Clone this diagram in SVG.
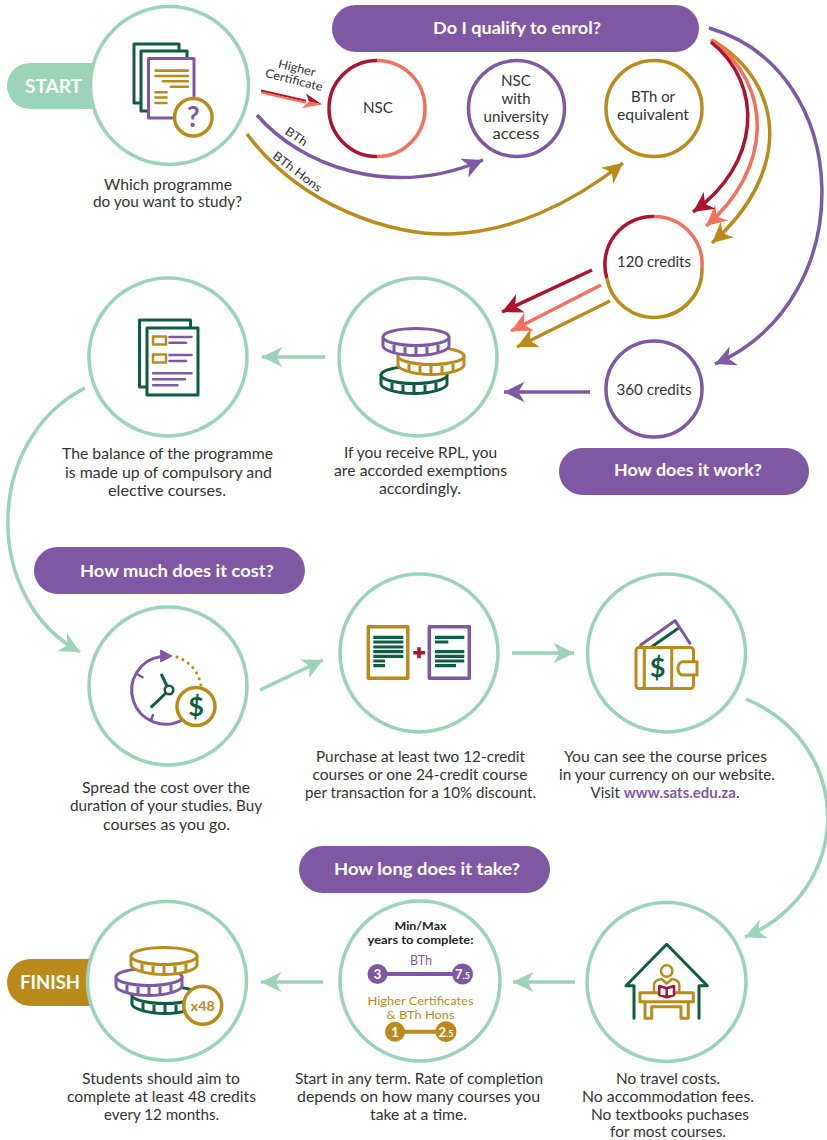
<svg xmlns="http://www.w3.org/2000/svg" width="827" height="1140" viewBox="0 0 827 1140">
<style>
text{font-family:"Lato","Noto Sans","Liberation Sans",sans-serif;fill:#333;text-anchor:middle}
.t{font-size:15px}
.c{font-size:14.5px}
.s{font-size:12px}
.h{font-size:17px;font-weight:700;fill:#fff}
.big{font-size:19px;font-weight:700;fill:#fff}
.ring{fill:#fff;stroke:#9BD3B8;stroke-width:3.5}
.g{fill:none;stroke:#9BD3B8;stroke-width:3.5;marker-end:url(#mG)}
.ln{fill:none;stroke-width:3.5}
.dg{stroke:#0F5C45}.pu{stroke:#7F58A4}.go{stroke:#BA8B1A}.re{stroke:#AE1231}.co{stroke:#F4705A}
.i{fill:none;stroke-width:3;stroke-linecap:round;stroke-linejoin:round}
.w{fill:#fff;stroke-width:3;stroke-linejoin:round}
.l2{fill:none;stroke-width:2.6;stroke-linecap:round}
.l3{fill:none;stroke-width:3.2}
.tw{stroke-width:2.5}
.tb{stroke-width:3.5}
.yr{font-size:11.5px;font-weight:700;fill:#222}
.gd{font-size:11.5px;fill:#BA8B1A}
.n{font-size:13px;font-weight:700;fill:#fff}
.d{font-size:27px;font-weight:700;fill:#0F5C45}
</style>
<defs>
<marker id="mG" markerUnits="userSpaceOnUse" markerWidth="24" markerHeight="24" refX="17" refY="10" orient="auto" viewBox="0 0 20 20"><path d="M0,1.5 L17,10 L0,18.5 L5,10Z" fill="#9BD3B8"/></marker>
<marker id="mP" markerUnits="userSpaceOnUse" markerWidth="24" markerHeight="24" refX="17" refY="10" orient="auto" viewBox="0 0 20 20"><path d="M0,1.5 L17,10 L0,18.5 L5,10Z" fill="#7F58A4"/></marker>
<marker id="mO" markerUnits="userSpaceOnUse" markerWidth="24" markerHeight="24" refX="17" refY="10" orient="auto" viewBox="0 0 20 20"><path d="M0,1.5 L17,10 L0,18.5 L5,10Z" fill="#BA8B1A"/></marker>
<marker id="mR" markerUnits="userSpaceOnUse" markerWidth="24" markerHeight="24" refX="17" refY="10" orient="auto" viewBox="0 0 20 20"><path d="M0,1.5 L17,10 L0,18.5 L5,10Z" fill="#AE1231"/></marker>
<marker id="mC" markerUnits="userSpaceOnUse" markerWidth="24" markerHeight="24" refX="17" refY="10" orient="auto" viewBox="0 0 20 20"><path d="M0,1.5 L17,10 L0,18.5 L5,10Z" fill="#F4705A"/></marker>
<g id="coin">
<path d="M-33,0 V9 C-33,14 -16,18.5 0,18.5 C16,18.5 33,14 33,9 V0Z" fill="#fff" stroke="currentColor" stroke-width="3" stroke-linejoin="round"/>
<path d="M-22,8 V15 M-11,10 V18 M0,10 V18 M11,10 V18 M22,8 V15" fill="none" stroke="currentColor" stroke-width="3"/>
<ellipse rx="33" ry="8.5" fill="#fff" stroke="currentColor" stroke-width="3"/>
</g>
</defs>

<g id="connectors">
<path fill="none" stroke="#AE1231" stroke-width="2" d="M261,90.5 L306,100.8"/>
<path fill="none" stroke="#F4705A" stroke-width="2" d="M261,92.5 L306,102.8"/>
<path d="M322,104.5 L306,93.5 L309,101.5Z" fill="#AE1231"/>
<path d="M322,104.5 L302,108 L309,101.5Z" fill="#F4705A"/>
<path class="ln pu" d="M257,115 C300,165 390,200 483,160" marker-end="url(#mP)"/>
<path class="ln go" d="M247,134 C300,205 390,236 450,234 C510,232 570,205 623,163" marker-end="url(#mO)"/>
<path class="ln go" d="M712,40 C788,85 790,175 712,243" marker-end="url(#mO)"/>
<path class="ln co" d="M711,40 C775,85 772,170 706,226" marker-end="url(#mC)"/>
<path class="ln re" d="M711,42 C765,85 760,165 693,212" marker-end="url(#mR)"/>
<path class="ln pu" d="M709,28 C855,70 862,300 715,364" marker-end="url(#mP)"/>
<path class="ln re" d="M592,270 L502,312" marker-end="url(#mR)"/>
<path class="ln co" d="M601,285 L511,331" marker-end="url(#mC)"/>
<path class="ln go" d="M610,301 L517,347" marker-end="url(#mO)"/>
<path class="ln pu" d="M590,392 L504,392" marker-end="url(#mP)"/>
<path class="g" d="M325,357 L262,357"/>
<path class="g" d="M85,388 C-17,440 -17,600 80,652"/>
<path class="g" d="M260,690 L323,660"/>
<path class="g" d="M512,653 L574,653"/>
<path class="g" d="M746,699 C855,745 855,890 745,937"/>
<path class="g" d="M575,982 L513,982"/>
<path class="g" d="M323,982 L261,982"/>
<text class="s" transform="translate(296,72) rotate(14)" textLength="38" lengthAdjust="spacingAndGlyphs">Higher</text>
<text class="s" transform="translate(293,84) rotate(14)" textLength="59" lengthAdjust="spacingAndGlyphs">Certificate</text>
<text class="s" transform="translate(294,140) rotate(34)" textLength="24" lengthAdjust="spacingAndGlyphs">BTh</text>
<text class="s" transform="translate(295,175) rotate(37)" textLength="58" lengthAdjust="spacingAndGlyphs">BTh Hons</text>
</g>

<g id="pill-start"><rect x="7" y="63" width="120" height="46" rx="23" fill="#9BD3B8"/><text class="big" x="53.5" y="93" textLength="57" lengthAdjust="spacingAndGlyphs">START</text></g>
<g id="node-programme">
<circle class="ring" cx="169.5" cy="85.5" r="79"/>
<rect class="w dg" x="134" y="44" width="45" height="59"/>
<rect class="w dg" x="141" y="51" width="46" height="60"/>
<rect class="w pu" x="148.5" y="58.5" width="45.5" height="59.5"/>
<path class="l2 go" d="M155.500,70.600H188M155.500,76H188M163,81.300H188M171,86.700H188M155.500,92.300H166.500M155.500,97.500H166.500M155.500,103H166.500"/>
<circle class="w go tb" cx="193.300" cy="117.300" r="18.800"/>
<text x="193.300" y="127" style="font-size:28px;font-weight:700;fill:#7F58A4">?</text>
<text class="t" x="168" y="190" textLength="128" lengthAdjust="spacingAndGlyphs">Which programme</text>
<text class="t" x="167.500" y="207" textLength="149" lengthAdjust="spacingAndGlyphs">do you want to study?</text>
</g>

<g id="pill-qualify"><rect x="332" y="5" width="367" height="47" rx="23.500" fill="#7F58A4"/><text class="h" x="517" y="34" textLength="168" lengthAdjust="spacingAndGlyphs">Do I qualify to enrol?</text></g>

<g id="node-nsc">
<path class="ln re" d="M377,60.500 A48,48 0 0 0 377,156.500"/>
<path class="ln co" d="M377,60.500 A48,48 0 0 1 377,156.500"/>
<text class="c" x="378" y="113" textLength="30" lengthAdjust="spacingAndGlyphs">NSC</text>
</g>
<g id="node-nsc-univ">
<circle class="ln pu" cx="516.500" cy="108.500" r="48"/>
<text class="c" x="516" y="86" textLength="30" lengthAdjust="spacingAndGlyphs">NSC</text>
<text class="c" x="516" y="104" textLength="29" lengthAdjust="spacingAndGlyphs">with</text>
<text class="c" x="516" y="122" textLength="65" lengthAdjust="spacingAndGlyphs">university</text>
<text class="c" x="516" y="139" textLength="47" lengthAdjust="spacingAndGlyphs">access</text>
</g>
<g id="node-bth">
<circle class="ln go" cx="654" cy="108.500" r="48"/>
<text class="c" x="653" y="102" textLength="44" lengthAdjust="spacingAndGlyphs">BTh or</text>
<text class="c" x="653" y="120" textLength="72" lengthAdjust="spacingAndGlyphs">equivalent</text>
</g>
<g id="node-120">
<path class="ln go" d="M606.800,278 A48,48 0 0 0 702,268"/>
<path class="ln re" d="M654,216.500 A48,48 0 0 0 606.800,278"/>
<path class="ln co" d="M654,216.500 A48,48 0 0 1 702,268"/>
<text class="c" x="654" y="267" textLength="74" lengthAdjust="spacingAndGlyphs">120 credits</text>
</g>
<g id="node-360">
<circle class="ln pu" cx="654" cy="389" r="48"/>
<text class="c" x="654" y="395" textLength="75" lengthAdjust="spacingAndGlyphs">360 credits</text>
</g>

<g id="node-balance">
<circle class="ring" cx="168" cy="357" r="79"/>
<rect class="w dg" x="139.500" y="320" width="51" height="67"/>
<rect class="w dg" x="147" y="328" width="51" height="67"/>
<path class="i go tw" d="M153,336.500H166V344.500H153ZM153,354.500H166V362.500H153Z"/>
<path class="l2 pu" d="M169.500,337H191.500M169.500,342.800H186M169.500,355H191.500M169.500,361H186M153,373.300H191.500M153,379.300H185M153,385.300H177.500"/>
<text class="t" x="167.500" y="459" textLength="211" lengthAdjust="spacingAndGlyphs">The balance of the programme</text>
<text class="t" x="168.500" y="478" textLength="207" lengthAdjust="spacingAndGlyphs">is made up of compulsory and</text>
<text class="t" x="167" y="496" textLength="118" lengthAdjust="spacingAndGlyphs">elective courses.</text>
</g>
<g id="node-rpl">
<circle class="ring" cx="418" cy="357" r="79"/>
<use href="#coin" x="414" y="375" style="color:#0F5C45"/>
<use href="#coin" x="431" y="356" style="color:#BA8B1A"/>
<use href="#coin" x="416" y="337" style="color:#7F58A4"/>
<text class="t" x="420.500" y="458" textLength="153" lengthAdjust="spacingAndGlyphs">If you receive RPL, you</text>
<text class="t" x="420.500" y="476" textLength="173" lengthAdjust="spacingAndGlyphs">are accorded exemptions</text>
<text class="t" x="420" y="494" textLength="82" lengthAdjust="spacingAndGlyphs">accordingly.</text>
</g>
<g id="pill-work"><rect x="559" y="448" width="250" height="47" rx="23.500" fill="#7F58A4"/><text class="h" x="688" y="476" textLength="148" lengthAdjust="spacingAndGlyphs">How does it work?</text></g>
<g id="pill-cost"><rect x="34" y="547" width="271" height="47" rx="23.500" fill="#7F58A4"/><text class="h" x="177" y="577" textLength="194" lengthAdjust="spacingAndGlyphs">How much does it cost?</text></g>

<g id="node-spread">
<circle class="ring" cx="168" cy="686" r="79"/>
<path class="i pu" d="M161,656.500 A34,34 0 1 0 182,720"/>
<path d="M160.700,650 L172,656 L160.700,662Z" fill="#7F58A4" stroke="#7F58A4" stroke-width="1"/>
<path class="i pu tw" d="M137,674L142.500,677.300M153,715L151,720"/>
<path d="M177,657 A36,36 0 0 1 201,686" fill="none" stroke="#BA8B1A" stroke-width="3" stroke-linecap="round" stroke-dasharray="0.100 6.300"/>
<path class="i dg" d="M161.700,675L167,686M151.700,706.700L166,693"/>
<circle class="w dg tw" cx="169" cy="690" r="4.300"/>
<circle class="w go tb" cx="196" cy="706.500" r="19"/>
<text class="d" x="196" y="716">$</text>
<text class="t" x="166" y="793" textLength="168" lengthAdjust="spacingAndGlyphs">Spread the cost over the</text>
<text class="t" x="166" y="811" textLength="192" lengthAdjust="spacingAndGlyphs">duration of your studies. Buy</text>
<text class="t" x="166.500" y="830" textLength="127" lengthAdjust="spacingAndGlyphs">courses as you go.</text>
</g>
<g id="node-purchase">
<circle class="ring" cx="419" cy="653" r="79"/>
<rect class="w go tb" x="368.300" y="626.700" width="39.500" height="51.600"/>
<path class="l3 dg" d="M373.300,637.300H403.300M373.300,642H403.300M373.300,647H403.300M373.300,651.700H403.300M373.300,656.300H403.300M373.300,661H385M373.300,665.700H385"/>
<path d="M419,647.300V658.300M413.300,652.700H425" fill="none" stroke="#AE1231" stroke-width="3.500"/>
<rect class="w pu tb" x="429.300" y="626.700" width="40" height="51.600"/>
<path class="l3 dg" d="M435,637.300H464.300M435,642H448.300M435,651.700H464.300M435,656.300H464.300M435,661H464.300M435,665.700H456"/>
<text class="t" x="420.500" y="762" textLength="209" lengthAdjust="spacingAndGlyphs">Purchase at least two 12-credit</text>
<text class="t" x="420" y="780" textLength="215" lengthAdjust="spacingAndGlyphs">courses or one 24-credit course</text>
<text class="t" x="420.500" y="798" textLength="231" lengthAdjust="spacingAndGlyphs">per transaction for a 10% discount.</text>
</g>
<g id="node-prices">
<circle class="ring" cx="666.500" cy="653" r="79"/>
<path class="i pu" d="M640.700,645L675,620.700L690,643.300"/>
<path class="i dg" style="stroke-linecap:butt" d="M651.700,646.700L678.300,628.300"/>
<rect class="i go" x="636" y="647.500" width="57.500" height="41" rx="3"/>
<path class="i go" d="M644.300,647.500V688.500M671.700,647.500V688.500"/>
<path class="w go" d="M697,661.700H683A5,6.500 0 0 0 683,675H697Z"/>
<text class="d" x="657.700" y="677">$</text>
<text class="t" x="665.500" y="762" textLength="203" lengthAdjust="spacingAndGlyphs">You can see the course prices</text>
<text class="t" x="667" y="780" textLength="216" lengthAdjust="spacingAndGlyphs">in your currency on our website.</text>
<text class="t" x="665" y="798">Visit <tspan style="font-weight:700;fill:#7F58A4">www.sats.edu.za</tspan>.</text>
</g>
<g id="pill-long"><rect x="299" y="846" width="251" height="47" rx="23.500" fill="#7F58A4"/><text class="h" x="427" y="875" textLength="186" lengthAdjust="spacingAndGlyphs">How long does it take?</text></g>

<g id="pill-finish"><rect x="7" y="959" width="120" height="47" rx="23.500" fill="#BA8B1A"/><text class="big" x="50" y="989" textLength="60" lengthAdjust="spacingAndGlyphs">FINISH</text></g>
<g id="node-finish">
<circle class="ring" cx="167" cy="981" r="79.500"/>
<use href="#coin" x="165" y="995" style="color:#0F5C45"/>
<use href="#coin" x="149" y="977" style="color:#7F58A4"/>
<use href="#coin" x="164" y="956" style="color:#BA8B1A"/>
<circle class="w go tb" cx="202.700" cy="1005.300" r="19"/>
<text x="202.700" y="1010.500" style="font-size:14px;font-weight:700;fill:#BA8B1A" textLength="24" lengthAdjust="spacingAndGlyphs">x48</text>
<text class="t" x="161" y="1084" textLength="158" lengthAdjust="spacingAndGlyphs">Students should aim to</text>
<text class="t" x="161.500" y="1102" textLength="189" lengthAdjust="spacingAndGlyphs">complete at least 48 credits</text>
<text class="t" x="161.500" y="1120" textLength="115" lengthAdjust="spacingAndGlyphs">every 12 months.</text>
</g>
<g id="node-years">
<circle class="ring" cx="420" cy="981" r="80"/>
<text class="yr" x="420.500" y="930" textLength="52" lengthAdjust="spacingAndGlyphs">Min/Max</text>
<text class="yr" x="420.500" y="944" textLength="106" lengthAdjust="spacingAndGlyphs">years to complete:</text>
<text x="421" y="965" style="font-size:13px;fill:#7F58A4" textLength="22" lengthAdjust="spacingAndGlyphs">BTh</text>
<path d="M377,974H463" stroke="#7F58A4" stroke-width="4"/>
<circle cx="377.500" cy="974" r="10" fill="#7F58A4"/><circle cx="462.500" cy="974" r="10.500" fill="#7F58A4"/>
<text class="n" x="377.500" y="979">3</text>
<text class="n" x="462.500" y="979">7<tspan style="font-size:9px">.5</tspan></text>
<text class="gd" x="420.500" y="1005" textLength="106" lengthAdjust="spacingAndGlyphs">Higher Certificates</text>
<text class="gd" x="420.500" y="1019" textLength="68" lengthAdjust="spacingAndGlyphs">&amp; BTh Hons</text>
<path d="M395,1031.700H446" stroke="#BA8B1A" stroke-width="4"/>
<circle cx="395" cy="1031.700" r="10" fill="#BA8B1A"/><circle cx="446" cy="1031.700" r="10.500" fill="#BA8B1A"/>
<text class="n" x="395" y="1036.500">1</text>
<text class="n" x="446" y="1036.500">2<tspan style="font-size:9px">.5</tspan></text>
<text class="t" x="419" y="1084" textLength="248" lengthAdjust="spacingAndGlyphs">Start in any term. Rate of completion</text>
<text class="t" x="418.500" y="1102" textLength="243" lengthAdjust="spacingAndGlyphs">depends on how many courses you</text>
<text class="t" x="418.500" y="1120" textLength="97" lengthAdjust="spacingAndGlyphs">take at a time.</text>
</g>
<g id="node-costs">
<circle class="ring" cx="666.500" cy="982" r="79.500"/>
<path class="i dg" d="M634,1018.300V985.700H626L666.700,944.300L707.300,985.700H699V1018.300"/>
<circle class="i go tw" cx="666.700" cy="971" r="5.700"/>
<path class="i go tw" d="M654,992.700V985C654,981 658,979.500 661.500,979L666.700,983.500L672,979C675.500,979.500 679.300,981 679.300,985V992.700"/>
<path class="i go" d="M640,992.700H693.300V1001.700H640ZM645,1001.700V1018.300H651.700V1006.700H681V1018.300H688.300V1001.700"/>
<path class="w re tw" d="M659.300,986L666.700,988.300L674,986V995L666.700,997.300L659.300,995ZM666.700,988.300V997.300"/>
<text class="t" x="668" y="1084" textLength="104" lengthAdjust="spacingAndGlyphs">No travel costs.</text>
<text class="t" x="668" y="1102" textLength="172" lengthAdjust="spacingAndGlyphs">No accommodation fees.</text>
<text class="t" x="670" y="1120" textLength="158" lengthAdjust="spacingAndGlyphs">No textbooks puchases</text>
<text class="t" x="668" y="1137" textLength="116" lengthAdjust="spacingAndGlyphs">for most courses.</text>
</g>
</svg>
